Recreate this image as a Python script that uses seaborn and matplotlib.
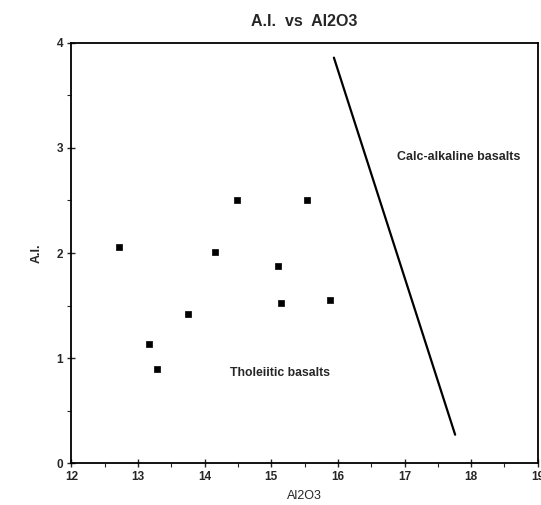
import matplotlib
matplotlib.use("Agg")
import matplotlib.pyplot as plt
import seaborn as sns
import pandas as pd
from matplotlib.ticker import MultipleLocator

al2o3 = [12.71, 14.49, 15.54, 14.15, 15.10, 15.15, 15.88, 13.75, 13.16, 13.29]
ai = [2.06, 2.50, 2.50, 2.01, 1.88, 1.52, 1.55, 1.42, 1.13, 0.90]
line_x = [15.94, 17.76]
line_y = [3.86, 0.27]

sns.set_theme(style="ticks")
plt.rcParams['font.family'] = ['Liberation Sans', 'DejaVu Sans']

df = pd.DataFrame({"Al2O3": al2o3, "A.I.": ai})
fig = plt.figure(figsize=(5.41, 5.05), dpi=100)
ax = fig.add_axes([0.132, 0.083, 0.862, 0.832])

sns.lineplot(x=line_x, y=line_y, ax=ax, color="black", linewidth=1.6)
sns.scatterplot(data=df, x="Al2O3", y="A.I.", ax=ax, marker="s", s=22,
                color="black", edgecolor="black", linewidth=0.5)

ax.set_xlim(12, 19)
ax.set_ylim(0, 4)
ax.xaxis.set_major_locator(MultipleLocator(1))
ax.xaxis.set_minor_locator(MultipleLocator(0.5))
ax.yaxis.set_major_locator(MultipleLocator(1))
ax.yaxis.set_minor_locator(MultipleLocator(0.5))
ax.tick_params(which="major", direction="inout", length=6, width=1, labelsize=8.5, pad=3)
ax.tick_params(which="minor", direction="out", length=3, width=0.8)
for lbl in ax.get_xticklabels() + ax.get_yticklabels():
    lbl.set_fontweight("bold")
for sp in ax.spines.values():
    sp.set_visible(True)
    sp.set_linewidth(1.3)
    sp.set_color("black")

ax.set_title("A.I.  vs  Al2O3", fontsize=11.5, fontweight="bold", pad=12)
ax.set_xlabel("Al2O3", fontsize=9, labelpad=5)
ax.set_ylabel("A.I.", fontsize=9, fontweight="bold", labelpad=10)

ax.text(17.82, 2.91, "Calc-alkaline basalts", fontsize=9, fontweight="bold",
        ha="center", va="center")
ax.text(15.13, 0.86, "Tholeiitic basalts", fontsize=8.8, fontweight="bold",
        ha="center", va="center")

fig.savefig("out.png", dpi=100)
